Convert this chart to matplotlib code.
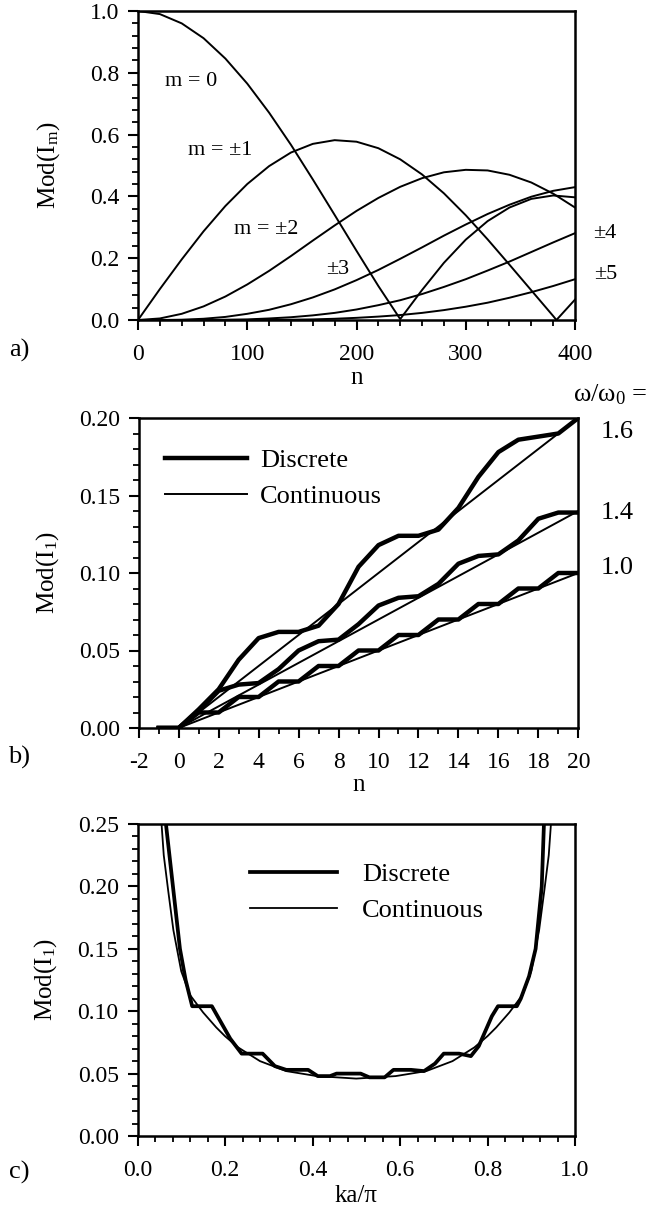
import matplotlib
matplotlib.use('Agg')
import matplotlib.pyplot as plt
from matplotlib.ticker import MultipleLocator, FormatStrFormatter

# ---------------- data: panel a (Mod(I_m) vs n) ----------------
n_a = [0, 20, 40, 60, 80, 100, 120, 140, 160, 180, 200, 220, 240, 260, 280,
       300, 320, 340, 360, 380, 400]
m0_vals = [1.000, 0.990, 0.960, 0.912, 0.846, 0.765, 0.671, 0.567, 0.455, 0.340,
           0.224, 0.110, 0.003, 0.097, 0.185, 0.260, 0.320, 0.364, 0.392, 0.403, 0.397]
n_m1 = [0, 20, 40, 60, 80, 100, 120, 140, 160, 180, 200, 220, 240, 260, 280,
        300, 320, 340, 360, 380, 383, 400]
m1_vals = [0.000, 0.100, 0.196, 0.287, 0.369, 0.440, 0.498, 0.542, 0.570, 0.582,
           0.577, 0.556, 0.520, 0.471, 0.410, 0.339, 0.261, 0.179, 0.096, 0.013,
           0.000, 0.066]
m2_vals = [0.000, 0.005, 0.020, 0.044, 0.076, 0.115, 0.159, 0.207, 0.257, 0.306,
           0.353, 0.395, 0.431, 0.459, 0.478, 0.486, 0.484, 0.470, 0.445, 0.409, 0.364]
m3_vals = [0.000, 0.000, 0.001, 0.004, 0.010, 0.020, 0.033, 0.051, 0.073, 0.099,
           0.129, 0.162, 0.198, 0.235, 0.273, 0.309, 0.343, 0.373, 0.399, 0.418, 0.430]
m4_vals = [0.000, 0.000, 0.000, 0.000, 0.001, 0.002, 0.005, 0.009, 0.015, 0.023,
           0.034, 0.048, 0.064, 0.084, 0.107, 0.132, 0.160, 0.189, 0.220, 0.251, 0.281]
m5_vals = [0.000, 0.000, 0.000, 0.000, 0.000, 0.000, 0.001, 0.001, 0.002, 0.004,
           0.007, 0.011, 0.016, 0.023, 0.032, 0.043, 0.056, 0.072, 0.090, 0.110, 0.132]
labels_a = ["m = 0", "m = \u00b11", "m = \u00b12", "\u00b13", "\u00b14", "\u00b15"]
label_pos_a = [(49, 0.771), (75, 0.55), (117, 0.293), (183, 0.162), (427, 0.281), (428, 0.146)]

# ---------------- data: panel b (Mod(I_1) vs n) ----------------
n_disc = [-1, 0, 1, 2, 3, 4, 5, 6, 7, 8, 9, 10, 11, 12, 13, 14, 15, 16, 17, 18, 19, 20]
disc_10 = [0, 0, 0.010, 0.010, 0.020, 0.020, 0.030, 0.030, 0.040, 0.040, 0.050,
           0.050, 0.060, 0.060, 0.070, 0.070, 0.080, 0.080, 0.090, 0.090, 0.100, 0.100]
disc_14 = [0, 0, 0.011, 0.024, 0.028, 0.029, 0.038, 0.050, 0.056, 0.057, 0.067,
           0.079, 0.084, 0.085, 0.093, 0.106, 0.111, 0.112, 0.121, 0.135, 0.139, 0.139]
disc_16 = [0, 0, 0.012, 0.025, 0.044, 0.058, 0.062, 0.062, 0.066, 0.080, 0.104,
           0.118, 0.124, 0.124, 0.128, 0.142, 0.162, 0.178, 0.186, 0.188, 0.190, 0.200]
n_cont = [0, 1, 2, 3, 4, 5, 6, 7, 8, 9, 10, 11, 12, 13, 14, 15, 16, 17, 18, 19, 20]
cont_10 = [0, 0.005, 0.010, 0.015, 0.020, 0.025, 0.030, 0.035, 0.040, 0.045, 0.050,
           0.055, 0.060, 0.065, 0.070, 0.075, 0.080, 0.085, 0.090, 0.095, 0.100]
cont_14 = [0, 0.007, 0.014, 0.021, 0.028, 0.035, 0.042, 0.049, 0.056, 0.063, 0.070,
           0.077, 0.084, 0.091, 0.098, 0.105, 0.112, 0.119, 0.126, 0.133, 0.140]
cont_16 = [0, 0.010, 0.020, 0.030, 0.040, 0.050, 0.060, 0.070, 0.080, 0.090, 0.100,
           0.110, 0.120, 0.130, 0.140, 0.150, 0.160, 0.170, 0.180, 0.190, 0.200]
omega_labels = ["1.6", "1.4", "1.0"]
omega_label_y = [0.191, 0.139, 0.103]

# ---------------- data: panel c (Mod(I_1) vs ka/pi) ----------------
ka_cont = [0.055, 0.060, 0.070, 0.082, 0.100, 0.120, 0.150, 0.180, 0.200, 0.230,
           0.280, 0.340, 0.410, 0.500, 0.590, 0.660, 0.720, 0.770, 0.800, 0.820,
           0.850, 0.880, 0.900, 0.918, 0.930, 0.940, 0.945]
val_cont = [0.250, 0.225, 0.197, 0.165, 0.132, 0.113, 0.099, 0.087, 0.080, 0.071,
            0.060, 0.052, 0.048, 0.046, 0.048, 0.052, 0.060, 0.071, 0.080, 0.087,
            0.099, 0.113, 0.132, 0.165, 0.197, 0.225, 0.250]
ka_disc = [0.065, 0.081, 0.097, 0.110, 0.125, 0.170, 0.212, 0.238, 0.286, 0.314,
           0.340, 0.390, 0.412, 0.440, 0.455, 0.510, 0.530, 0.565, 0.585, 0.625,
           0.655, 0.680, 0.700, 0.735, 0.762, 0.780, 0.810, 0.824, 0.867, 0.876,
           0.895, 0.910, 0.924, 0.929]
val_disc = [0.250, 0.200, 0.150, 0.125, 0.104, 0.104, 0.078, 0.066, 0.066, 0.056,
            0.053, 0.053, 0.048, 0.048, 0.050, 0.050, 0.047, 0.047, 0.053, 0.053,
            0.052, 0.058, 0.066, 0.066, 0.064, 0.072, 0.096, 0.104, 0.104, 0.110,
            0.128, 0.150, 0.200, 0.250]

# ---------------- style ----------------
plt.rcParams['font.family'] = ['Liberation Serif', 'DejaVu Serif']
plt.rcParams['mathtext.fontset'] = 'custom'
plt.rcParams['mathtext.rm'] = 'Liberation Serif'
plt.rcParams['mathtext.it'] = 'Liberation Serif:italic'
plt.rcParams['axes.unicode_minus'] = False

W, H = 651, 1209
fig = plt.figure(figsize=(W / 100, H / 100), dpi=100)


def rect(l, r, t, b):
    return [l / W, 1 - b / H, (r - l) / W, (b - t) / H]


def style(ax, xmaj, xmin, ymaj, ymin, xfmt, yfmt):
    for s in ax.spines.values():
        s.set_linewidth(1.8)
    ax.xaxis.set_major_locator(MultipleLocator(xmaj))
    ax.xaxis.set_minor_locator(MultipleLocator(xmin))
    ax.yaxis.set_major_locator(MultipleLocator(ymaj))
    ax.yaxis.set_minor_locator(MultipleLocator(ymin))
    ax.xaxis.set_major_formatter(FormatStrFormatter(xfmt))
    ax.yaxis.set_major_formatter(FormatStrFormatter(yfmt))
    ax.tick_params(which='major', direction='out', length=7.5, width=1.5, labelsize=17,
                   top=False, right=False)
    ax.tick_params(which='minor', direction='out', length=4, width=1.3, top=False, right=False)
    ax.tick_params(axis='x', which='major', pad=10)
    ax.tick_params(axis='y', which='major', pad=6)


# ---------------- panel a ----------------
axa = fig.add_axes(rect(138, 575, 11, 320))
lw_a = 1.4
axa.plot(n_a, m0_vals, color='black', lw=lw_a)
axa.plot(n_m1, m1_vals, color='black', lw=lw_a)
axa.plot(n_a, m2_vals, color='black', lw=lw_a)
axa.plot(n_a, m3_vals, color='black', lw=lw_a)
axa.plot(n_a, m4_vals, color='black', lw=lw_a)
axa.plot(n_a, m5_vals, color='black', lw=lw_a)
axa.set_xlim(0, 400)
axa.set_ylim(0, 1.0)
style(axa, 100, 20, 0.2, 0.04, '%d', '%.1f')
for txt, (xx, yy) in zip(labels_a, label_pos_a):
    axa.text(xx, yy, txt, fontsize=16, ha='center', va='center', clip_on=False)
axa.set_xlabel('n', fontsize=18)
axa.xaxis.set_label_coords(0.5, -0.152)
axa.set_ylabel('Mod(I$_\\mathregular{m}$)', fontsize=18)
axa.yaxis.set_label_coords(-0.175, 0.5)

# ---------------- panel b ----------------
axb = fig.add_axes(rect(138.75, 578.3, 418, 728))
lw_thick, lw_thin = 3.2, 1.4
hd, = axb.plot(n_disc, disc_16, color='black', lw=lw_thick, solid_joinstyle='round')
axb.plot(n_disc, disc_14, color='black', lw=lw_thick, solid_joinstyle='round')
axb.plot(n_disc, disc_10, color='black', lw=lw_thick, solid_joinstyle='round')
hc, = axb.plot(n_cont, cont_16, color='black', lw=lw_thin)
axb.plot(n_cont, cont_14, color='black', lw=lw_thin)
axb.plot(n_cont, cont_10, color='black', lw=lw_thin)
axb.set_xlim(-2, 20)
axb.set_ylim(0, 0.20)
style(axb, 2, 1, 0.05, 0.01, '%d', '%.2f')
for txt, yy in zip(omega_labels, omega_label_y):
    axb.text(21.1, yy, txt, fontsize=19, ha='left', va='center', clip_on=False)
axb.legend([hd, hc], ['Discrete', 'Continuous'], frameon=False, fontsize=19,
           handlelength=3.1, handletextpad=0.5, labelspacing=0.45, borderpad=0,
           borderaxespad=0, loc='upper left',
           bbox_to_anchor=(165 / W, 1 - 449 / H), bbox_transform=fig.transFigure)
axb.set_xlabel('n', fontsize=18)
axb.xaxis.set_label_coords(0.5, -0.148)
axb.set_ylabel('Mod(I$_\\mathregular{1}$)', fontsize=18)
axb.yaxis.set_label_coords(-0.178, 0.5)

# ---------------- panel c ----------------
axc = fig.add_axes(rect(137.5, 575, 824, 1136))
hd2, = axc.plot(ka_disc, val_disc, color='black', lw=2.7, solid_joinstyle='round')
hc2, = axc.plot(ka_cont, val_cont, color='black', lw=1.3)
axc.set_xlim(0, 1.0)
axc.set_ylim(0, 0.25)
style(axc, 0.2, 0.04, 0.05, 0.01, '%.1f', '%.2f')
axc.legend([hd2, hc2], ['Discrete', 'Continuous'], frameon=False, fontsize=19,
           handlelength=3.3, handletextpad=0.95, labelspacing=0.45, borderpad=0,
           borderaxespad=0, loc='upper left',
           bbox_to_anchor=(250 / W, 1 - 863 / H), bbox_transform=fig.transFigure)
axc.set_xlabel('ka/\u03c0', fontsize=18)
axc.xaxis.set_label_coords(0.5, -0.157)
axc.set_ylabel('Mod(I$_\\mathregular{1}$)', fontsize=18)
axc.yaxis.set_label_coords(-0.18, 0.5)

# ---------------- figure texts ----------------
fig.text(19 / W, 1 - 350 / H, 'a)', fontsize=19, ha='center', va='center')
fig.text(19 / W, 1 - 757 / H, 'b)', fontsize=19, ha='center', va='center')
fig.text(19 / W, 1 - 1172 / H, 'c)', fontsize=19, ha='center', va='center')
fig.text(573 / W, 1 - 395 / H, '\u03c9/\u03c9$_\\mathregular{0}$ =', fontsize=19,
         ha='left', va='center')

fig.savefig('out.png', dpi=100)
